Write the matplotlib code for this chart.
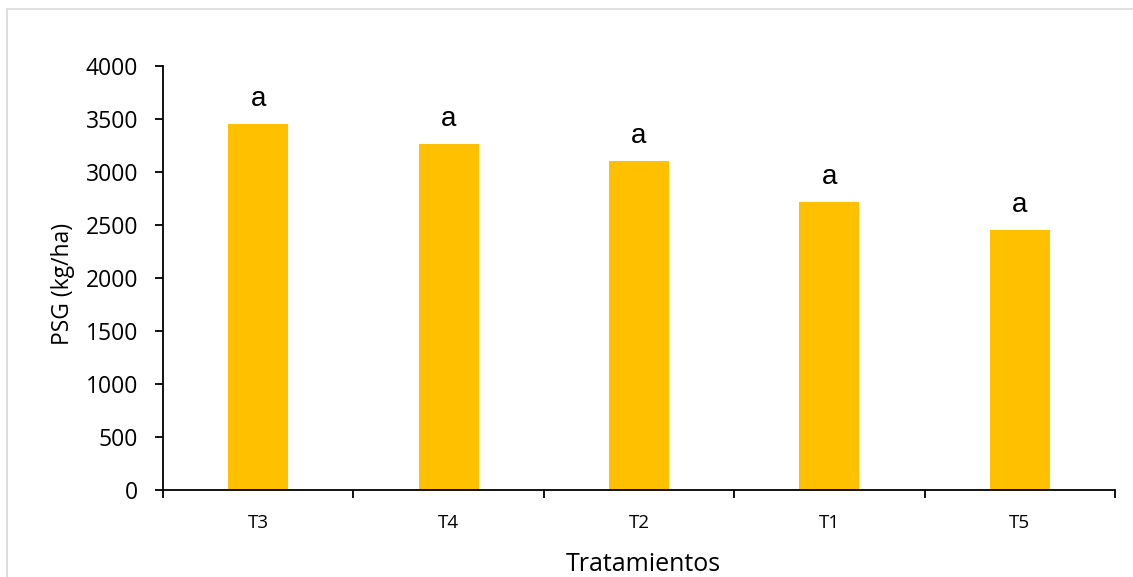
import matplotlib.pyplot as plt
from matplotlib.patches import Rectangle
import numpy as np

treatments = ["T3", "T4", "T2", "T1", "T5"]
psg = [3453, 3264, 3105, 2720, 2450]
letters = ["a", "a", "a", "a", "a"]

bar_color = "#FFC000"

fig = plt.figure(figsize=(11.33, 5.77), dpi=100)
ax = fig.add_axes([0.1439, 0.1508, 0.8402, 0.7348])

x = np.arange(len(treatments))
ax.bar(x, psg, width=0.316, color=bar_color, zorder=2)

# significance letters above each bar
for xi, val, lab in zip(x, psg, letters):
    ax.text(xi, val + 170, lab, ha="center", va="baseline", fontsize=20,
            family="Liberation Sans")

ax.set_xlim(-0.5, len(treatments) - 0.5)
ax.set_ylim(0, 4000)
ax.set_yticks(range(0, 4001, 500))

# category boundaries as major ticks, labels on minor ticks
ax.set_xticks(np.arange(-0.5, len(treatments), 1.0))
ax.set_xticklabels([])
ax.set_xticks(x, minor=True)
ax.set_xticklabels(treatments, minor=True, fontsize=13.5, family="Open Sans")
ax.tick_params(axis="x", which="major", length=6, width=1.3, direction="out")
ax.tick_params(axis="x", which="minor", length=0, pad=17)
ax.tick_params(axis="y", length=6, width=1.3, direction="out", labelsize=16.5, pad=12)
for t in ax.get_yticklabels():
    t.set_family("Open Sans")

for side in ["top", "right"]:
    ax.spines[side].set_visible(False)
for side in ["left", "bottom"]:
    ax.spines[side].set_linewidth(1.3)

ax.set_ylabel("PSG (kg/ha)", fontsize=16.5, family="Open Sans")
ax.yaxis.label.set_va("center")
ax.yaxis.set_label_coords(-0.105, 0.486)
ax.set_xlabel("Tratamientos", fontsize=18, family="Open Sans")
ax.xaxis.label.set_va("center")
ax.xaxis.set_label_coords(0.504, -0.176)

# light chart border
fig.patches.append(Rectangle((7 / 1133, -0.05), 1.2, (577 - 9) / 577 + 0.05,
                             transform=fig.transFigure, fill=False,
                             edgecolor="#D9D9D9", linewidth=1.2))

fig.savefig("out.png", dpi=100)
